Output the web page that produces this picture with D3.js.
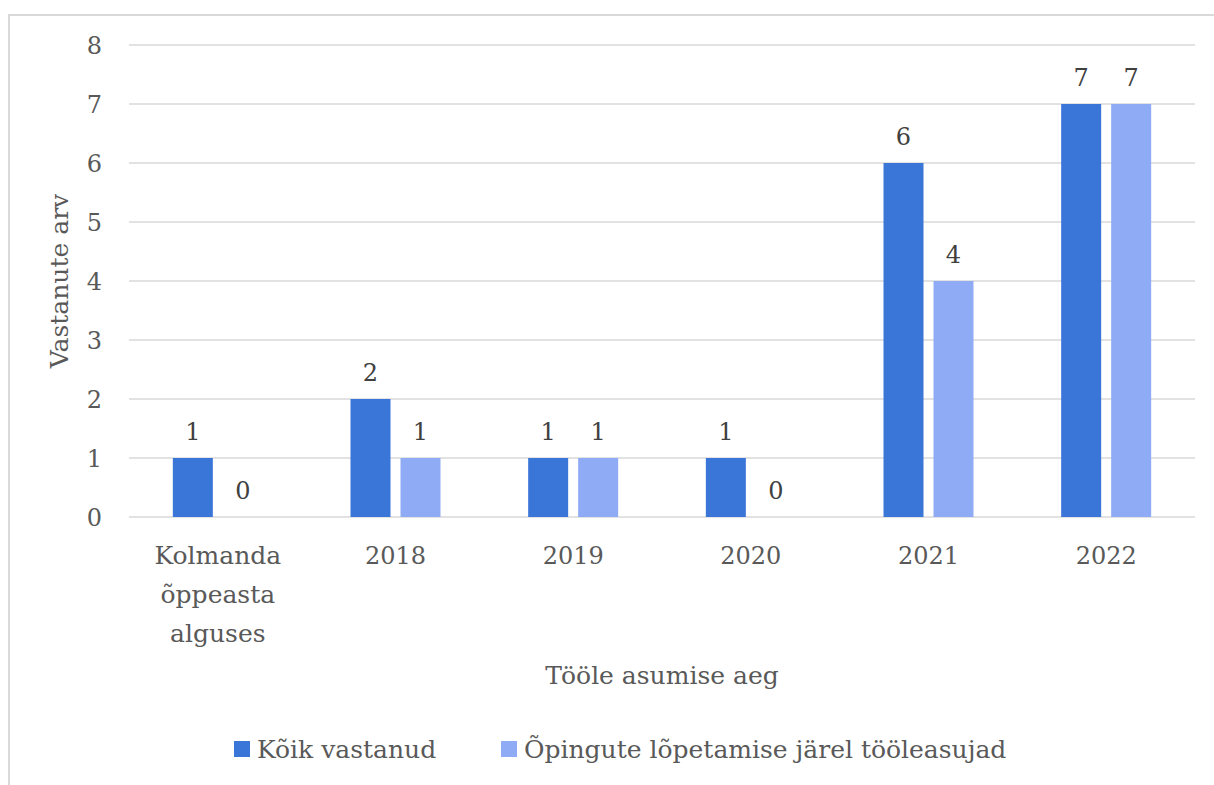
<!DOCTYPE html>
<html>
<head>
    <meta charset="utf-8">
    <title>Tööle asumise aeg</title>
    <style>
        html, body {
            margin: 0;
            padding: 0;
            background: #fff;
        }
    </style>
</head>
<body>
    <div id="chart"></div>
    <script src="https://cdnjs.cloudflare.com/ajax/libs/d3/7.6.1/d3.min.js"></script>
    <script>
        const categories = ['Kolmanda õppeaasta alguses', '2018', '2019', '2020', '2021', '2022'];
        const seriesNames = ['Kõik vastanud', 'Õpingute lõpetamise järel tööleasujad'];
        const allResp = [1, 2, 1, 1, 6, 7];
        const afterGrad = [0, 1, 1, 0, 4, 7];
        const yTicks = [0, 1, 2, 3, 4, 5, 6, 7, 8];
        const colors = ['#3a75d8', '#8fabf6'];

        const width = 1214, height = 785;
        const margin = { top: 45, right: 19, bottom: 268, left: 129 };
        const fontSize = 25;
        const numSize = 24;
        const serif = "'DejaVu Serif', 'Liberation Serif', 'Noto Serif'";

        const svg = d3.select('#chart').append('svg')
            .attr('width', width)
            .attr('height', height)
            .attr('font-family', serif);

        // chart frame (only left and top visible in the crop)
        svg.append('path')
            .attr('d', `M9,${height}V15H${width}`)
            .attr('fill', 'none')
            .attr('stroke', '#d9d9d9')
            .attr('stroke-width', 2);

        const x0 = d3.scaleBand()
            .domain(categories)
            .range([margin.left, width - margin.right]);

        const x1 = d3.scaleBand()
            .domain(seriesNames)
            .range([0, 90])
            .paddingInner(0.2);

        const y = d3.scaleLinear()
            .domain([0, 8])
            .range([height - margin.bottom, margin.top]);

        // gridlines
        svg.append('g')
            .selectAll('line')
            .data(yTicks)
            .enter()
            .append('line')
            .attr('x1', margin.left)
            .attr('x2', width - margin.right)
            .attr('y1', d => y(d))
            .attr('y2', d => y(d))
            .attr('stroke', '#d9d9d9')
            .attr('stroke-width', 1.5);

        // y axis labels
        const yAxis = d3.axisLeft(y)
            .tickValues(yTicks)
            .tickSize(0)
            .tickPadding(27);

        svg.append('g')
            .attr('transform', `translate(${margin.left},0)`)
            .call(yAxis)
            .attr('font-family', serif)
            .attr('font-size', numSize)
            .call(g => g.select('.domain').remove())
            .selectAll('text')
            .attr('fill', '#595959')
            .attr('dy', '0.36em');

        const rows = categories.map((c, i) => ({ cat: c, vals: [allResp[i], afterGrad[i]] }));

        const groups = svg.append('g')
            .selectAll('g')
            .data(rows)
            .enter()
            .append('g')
            .attr('transform', d => `translate(${x0(d.cat) + x0.bandwidth() / 2 - 45},0)`);

        groups.selectAll('rect')
            .data(d => d.vals.map((v, i) => ({ name: seriesNames[i], v: v, i: i })))
            .enter()
            .append('rect')
            .attr('x', d => x1(d.name))
            .attr('width', x1.bandwidth())
            .attr('y', d => y(d.v))
            .attr('height', d => y(0) - y(d.v))
            .attr('fill', d => colors[d.i]);

        groups.selectAll('text')
            .data(d => d.vals.map((v, i) => ({ name: seriesNames[i], v: v })))
            .enter()
            .append('text')
            .attr('x', d => x1(d.name) + x1.bandwidth() / 2)
            .attr('y', d => y(d.v) - 18)
            .attr('text-anchor', 'middle')
            .attr('font-size', numSize)
            .attr('fill', '#404040')
            .text(d => d.v);

        // category labels (wrapped)
        const catLines = {
            'Kolmanda õppeaasta alguses': ['Kolmanda', 'õppeasta', 'alguses']
        };

        const xLab = svg.append('g')
            .selectAll('text')
            .data(categories)
            .enter()
            .append('text')
            .attr('text-anchor', 'middle')
            .attr('transform', d => `translate(${x0(d) + x0.bandwidth() / 2},${y(0) + 47})`)
            .attr('font-size', fontSize)
            .attr('fill', '#595959');

        xLab.selectAll('tspan')
            .data(d => catLines[d] || [d])
            .enter()
            .append('tspan')
            .attr('x', 0)
            .attr('y', (d, i) => i * 39)
            .attr('font-size', d => /^\d+$/.test(d) ? numSize : fontSize)
            .text(d => d);

        // axis titles
        svg.append('text')
            .attr('x', (margin.left + width - margin.right) / 2)
            .attr('y', 684)
            .attr('text-anchor', 'middle')
            .attr('font-size', fontSize)
            .attr('fill', '#595959')
            .text('Tööle asumise aeg');

        svg.append('text')
            .attr('transform', `translate(68,${y(4)}) rotate(-90)`)
            .attr('text-anchor', 'middle')
            .attr('font-size', fontSize)
            .attr('fill', '#595959')
            .text('Vastanute arv');

        // legend
        const legendX = [234, 501];
        const legend = svg.append('g')
            .selectAll('g')
            .data(seriesNames)
            .enter()
            .append('g')
            .attr('transform', (d, i) => `translate(${legendX[i]},741)`);

        legend.append('rect')
            .attr('width', 16)
            .attr('height', 16)
            .attr('fill', (d, i) => colors[i]);

        legend.append('text')
            .attr('x', 23)
            .attr('y', 17)
            .attr('font-size', fontSize)
            .attr('fill', '#595959')
            .text(d => d);
    </script>
</body>
</html>
